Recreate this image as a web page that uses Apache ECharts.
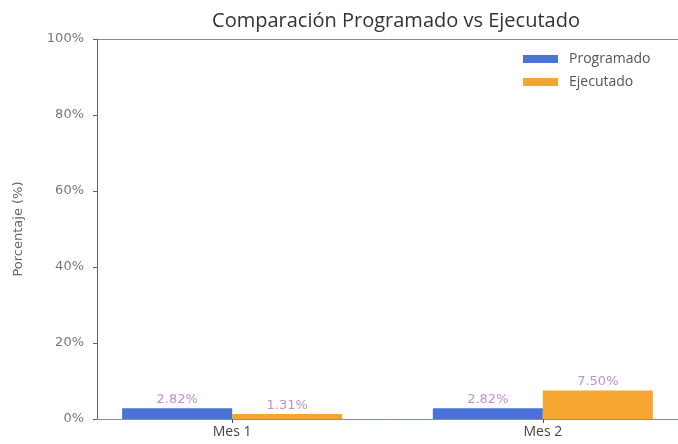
<!DOCTYPE html>
<html>
<head>
<meta charset="utf-8">
<script src="https://cdn.jsdelivr.net/npm/echarts@6/dist/echarts.min.js"></script>
<style>html,body{margin:0;padding:0;background:#fff}#c{width:678px;height:444px}</style>
</head>
<body>
<div id="c"></div>
<script>
var categories = ['Mes 1', 'Mes 2'];
var programado = [2.82, 2.82];
var ejecutado = [1.31, 7.50];
var yTicks = [0, 20, 40, 60, 80, 100];

var chart = echarts.init(document.getElementById('c'));
var font = '"Open Sans", "DejaVu Sans", sans-serif';
var font2 = '"DejaVu Sans", sans-serif';
function toPts(arr) { return arr.map(function (v, i) { return [i, v]; }); }
var labelStyle = {
  show: true, position: 'top', distance: 2,
  color: '#bf8fcf', fontSize: 13, fontFamily: font2,
  formatter: function (p) { return p.value[1].toFixed(2) + '%'; }
};
chart.setOption({
  animation: false,
  title: {
    text: 'Comparación Programado vs Ejecutado',
    left: 391, top: 6, textAlign: 'center',
    textStyle: { fontFamily: font, fontSize: 20, fontWeight: 'normal', color: '#333' }
  },
  legend: {
    orient: 'vertical', left: 518, top: 47, itemGap: 9,
    itemWidth: 35, itemHeight: 8, icon: 'rect',
    textStyle: { fontFamily: font, fontSize: 14, color: '#555', padding: [0, 0, 0, 6] },
    data: ['Programado', 'Ejecutado']
  },
  grid: { left: 97, top: 39, right: -7, bottom: 25 },
  xAxis: [{
    type: 'value', min: -0.435, max: 1.435,
    splitLine: { show: false },
    axisLine: { show: true, onZero: false, lineStyle: { color: '#d4707a', width: 1 } },
    axisTick: { show: true, customValues: [0, 1], length: 4, lineStyle: { color: '#555' } },
    axisLabel: {
      customValues: [0, 1], color: '#444', fontSize: 14, fontFamily: font, margin: 6,
      formatter: function (v) { return categories[Math.round(v)]; }
    }
  }, {
    type: 'value', position: 'top', min: -0.435, max: 1.435,
    splitLine: { show: false },
    axisLine: { show: true, onZero: false, lineStyle: { color: '#888', width: 1 } },
    axisTick: { show: false }, axisLabel: { show: false }
  }],
  yAxis: {
    type: 'value', min: 0, max: 100, interval: 20,
    name: 'Porcentaje (%)', nameLocation: 'middle', nameGap: 72,
    nameTextStyle: { fontFamily: font2, fontSize: 13, color: '#666' },
    splitLine: { show: false },
    axisLine: { show: true, onZero: false, lineStyle: { color: '#666', width: 1 } },
    axisTick: { show: true, length: 4, lineStyle: { color: '#666' } },
    axisLabel: { color: '#777', fontSize: 13, fontFamily: font2, margin: 13,
      formatter: function (v) { return yTicks.indexOf(v) >= 0 ? v + '%' : ''; } }
  },
  series: [
    { name: 'Programado', type: 'bar', data: toPts(programado), barWidth: 110, barGap: '0%',
      itemStyle: { color: '#4a72d8' }, label: labelStyle },
    { name: 'Ejecutado', type: 'bar', data: toPts(ejecutado), barWidth: 110, barGap: '0%',
      itemStyle: { color: '#f7a531' }, label: labelStyle }
  ]
});
</script>
</body>
</html>
